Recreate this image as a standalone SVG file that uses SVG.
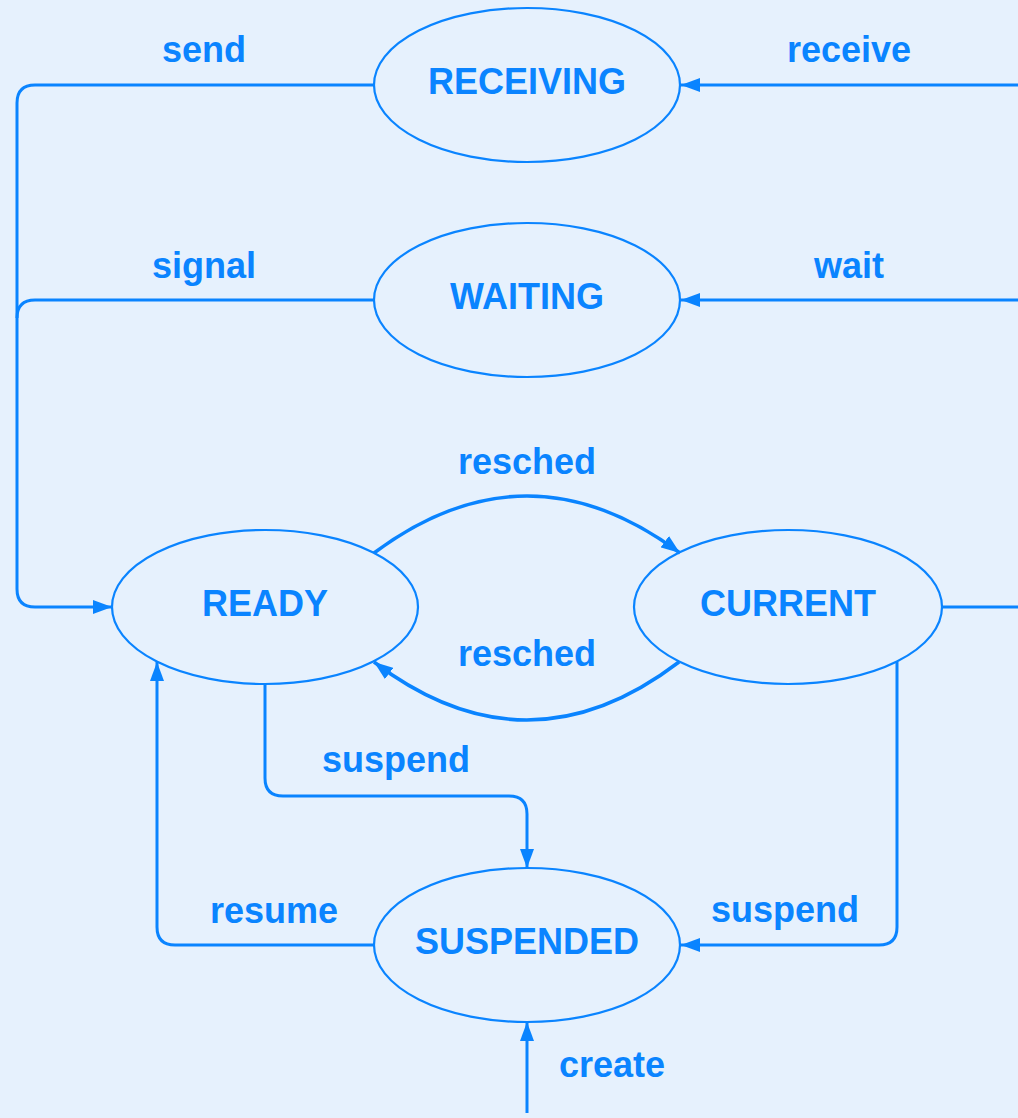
<svg xmlns="http://www.w3.org/2000/svg" width="1018" height="1118" viewBox="0 0 1018 1118">
<style>
.node{fill:none;stroke:#0A84FF;stroke-width:2.2}
.lbl{font-family:"Liberation Sans",Arial,sans-serif;font-weight:bold;font-size:36px;fill:#0A84FF;text-anchor:middle}
.edge{fill:none;stroke:#0A84FF;stroke-width:3}
.curve{fill:none;stroke:#0A84FF;stroke-width:3.5}
</style>
<defs>
<marker id="arr" markerUnits="userSpaceOnUse" markerWidth="20" markerHeight="14" refX="19" refY="7" orient="auto">
<path d="M0,0 L19,7 L0,14 Z" fill="#0A84FF"/>
</marker>
</defs>
<rect x="0" y="0" width="1018" height="1118" fill="#E6F1FD"/>
<g id="connectors">
<path class="edge" d="M374,85 H35 Q17,85 17,103 V589 Q17,607 35,607 H112" marker-end="url(#arr)"/>
<path class="edge" d="M374,300 H35 Q17,300 17,318"/>
<path class="edge" d="M1018,85 H681" marker-end="url(#arr)"/>
<path class="edge" d="M1018,300 H681" marker-end="url(#arr)"/>
<path class="edge" d="M942,607 H1018"/>
<path class="curve" d="M374,553 Q527,439 680,553" marker-end="url(#arr)"/>
<path class="curve" d="M679,662 Q527,778 374,662" marker-end="url(#arr)"/>
<path class="edge" d="M265,684 V778 Q265,796 283,796 H509 Q527,796 527,814 V868" marker-end="url(#arr)"/>
<path class="edge" d="M374,945 H175 Q157,945 157,927 V662" marker-end="url(#arr)"/>
<path class="edge" d="M897,662 V927 Q897,945 879,945 H681" marker-end="url(#arr)"/>
<path class="edge" d="M527,1113 V1022" marker-end="url(#arr)"/>
<text class="lbl" x="204" y="62">send</text>
<text class="lbl" x="204" y="278">signal</text>
<text class="lbl" x="849" y="62">receive</text>
<text class="lbl" x="849" y="278">wait</text>
<text class="lbl" x="527" y="474">resched</text>
<text class="lbl" x="527" y="666">resched</text>
<text class="lbl" x="396" y="772">suspend</text>
<text class="lbl" x="274" y="923">resume</text>
<text class="lbl" x="785" y="922">suspend</text>
<text class="lbl" x="612" y="1077">create</text>
</g>
<g id="RECEIVING"><ellipse class="node" cx="527" cy="85" rx="153" ry="77"/><text class="lbl" x="527" y="94">RECEIVING</text></g>
<g id="WAITING"><ellipse class="node" cx="527" cy="300" rx="153" ry="77"/><text class="lbl" x="527" y="309">WAITING</text></g>
<g id="READY"><ellipse class="node" cx="265" cy="607" rx="153" ry="77"/><text class="lbl" x="265" y="616">READY</text></g>
<g id="CURRENT"><ellipse class="node" cx="788" cy="607" rx="154" ry="77"/><text class="lbl" x="788" y="616">CURRENT</text></g>
<g id="SUSPENDED"><ellipse class="node" cx="527" cy="945" rx="153" ry="77"/><text class="lbl" x="527" y="954">SUSPENDED</text></g>
</svg>
